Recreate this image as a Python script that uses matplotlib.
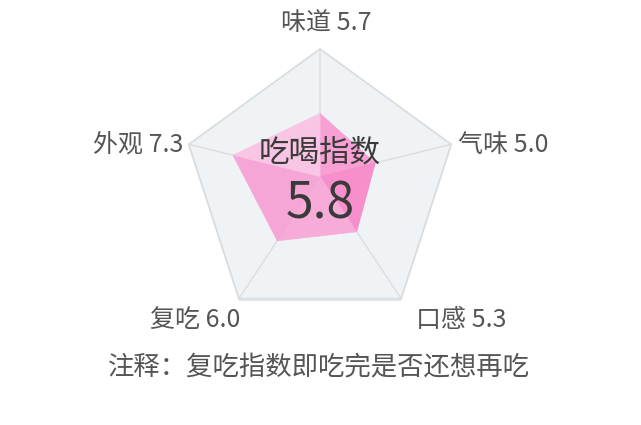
import numpy as np
import matplotlib
matplotlib.use("Agg")
import matplotlib.pyplot as plt
from matplotlib.patches import Polygon

# ---- data ----
categories = ['味道', '气味', '口感', '复吃', '外观']
values = [5.7, 5.0, 5.3, 6.0, 7.3]
index_title = '吃喝指数'
index_value = 5.8
note = '注释：复吃指数即吃完是否还想再吃'
scale_min, scale_max = 1.0, 10.5

plt.rcParams['font.family'] = ['Noto Sans CJK SC', 'DejaVu Sans']

W, H = 641, 425
fig = plt.figure(figsize=(W / 100, H / 100), dpi=100)
ax = fig.add_axes([0, 0, 1, 1])
ax.set_xlim(0, W)
ax.set_ylim(H, 0)
ax.axis('off')

# geometry (pixel space)
frame_cx, frame_cy, R = 320, 187, 138
hub = np.array([320.0, 176.5])
n = len(categories)
angles = np.deg2rad(90 - 72 * np.arange(n))
outer = np.column_stack([frame_cx + R * np.cos(angles), frame_cy - R * np.sin(angles)])

# shadow + frame
shadow = Polygon(outer + np.array([0, 2.5]), closed=True, facecolor='#e4e6e8', edgecolor='none', zorder=1)
ax.add_patch(shadow)
frame = Polygon(outer, closed=True, facecolor='#f0f3f5', edgecolor='#dadde0', linewidth=1.3, zorder=2)
ax.add_patch(frame)
for v in outer:
    ax.plot([hub[0], v[0]], [hub[1], v[1]], color='#dcdfe2', linewidth=1.1, zorder=3)

# data polygon, faceted
t = (np.array(values) - scale_min) / (scale_max - scale_min)
pts = hub + t[:, None] * (outer - hub)
facet_colors = ['#f8a0d3', '#f68fcb', '#f7abd9', '#f6a6d6', '#f9c5e4']
for i in range(n):
    j = (i + 1) % n
    tri = Polygon([hub, pts[i], pts[j]], closed=True, facecolor=facet_colors[i],
                  edgecolor=facet_colors[i], linewidth=0.5, zorder=4)
    ax.add_patch(tri)

# axis labels
label_color = '#555555'
fs = 18
fw = 'light'
labels = [f'{c} {v:.1f}' for c, v in zip(categories, values)]
ax.text(outer[0, 0] + 6, 23, labels[0], ha='center', va='center', fontsize=fs, color=label_color, fontweight=fw)
ax.text(outer[1, 0] + 7, outer[1, 1] + 1, labels[1], ha='left', va='center', fontsize=fs, color=label_color, fontweight=fw)
ax.text(461, 320, labels[2], ha='center', va='center', fontsize=fs, color=label_color, fontweight=fw)
ax.text(195, 320, labels[3], ha='center', va='center', fontsize=fs, color=label_color, fontweight=fw)
ax.text(outer[4, 0] - 5, outer[4, 1] + 1, labels[4], ha='right', va='center', fontsize=fs, color=label_color, fontweight=fw)

# center texts
ax.text(320, 153, index_title, ha='center', va='center', fontsize=22, color='#3a3a3a', zorder=6, fontweight=fw)
ax.text(320, 204, f'{index_value:.1f}', ha='center', va='center', fontsize=36, color='#3a3a3a', zorder=6, fontweight=fw)

# note
ax.text(319, 368, note, ha='center', va='center', fontsize=19, color='#555555', fontweight=fw)

fig.savefig('out.png', dpi=100, facecolor='white')
